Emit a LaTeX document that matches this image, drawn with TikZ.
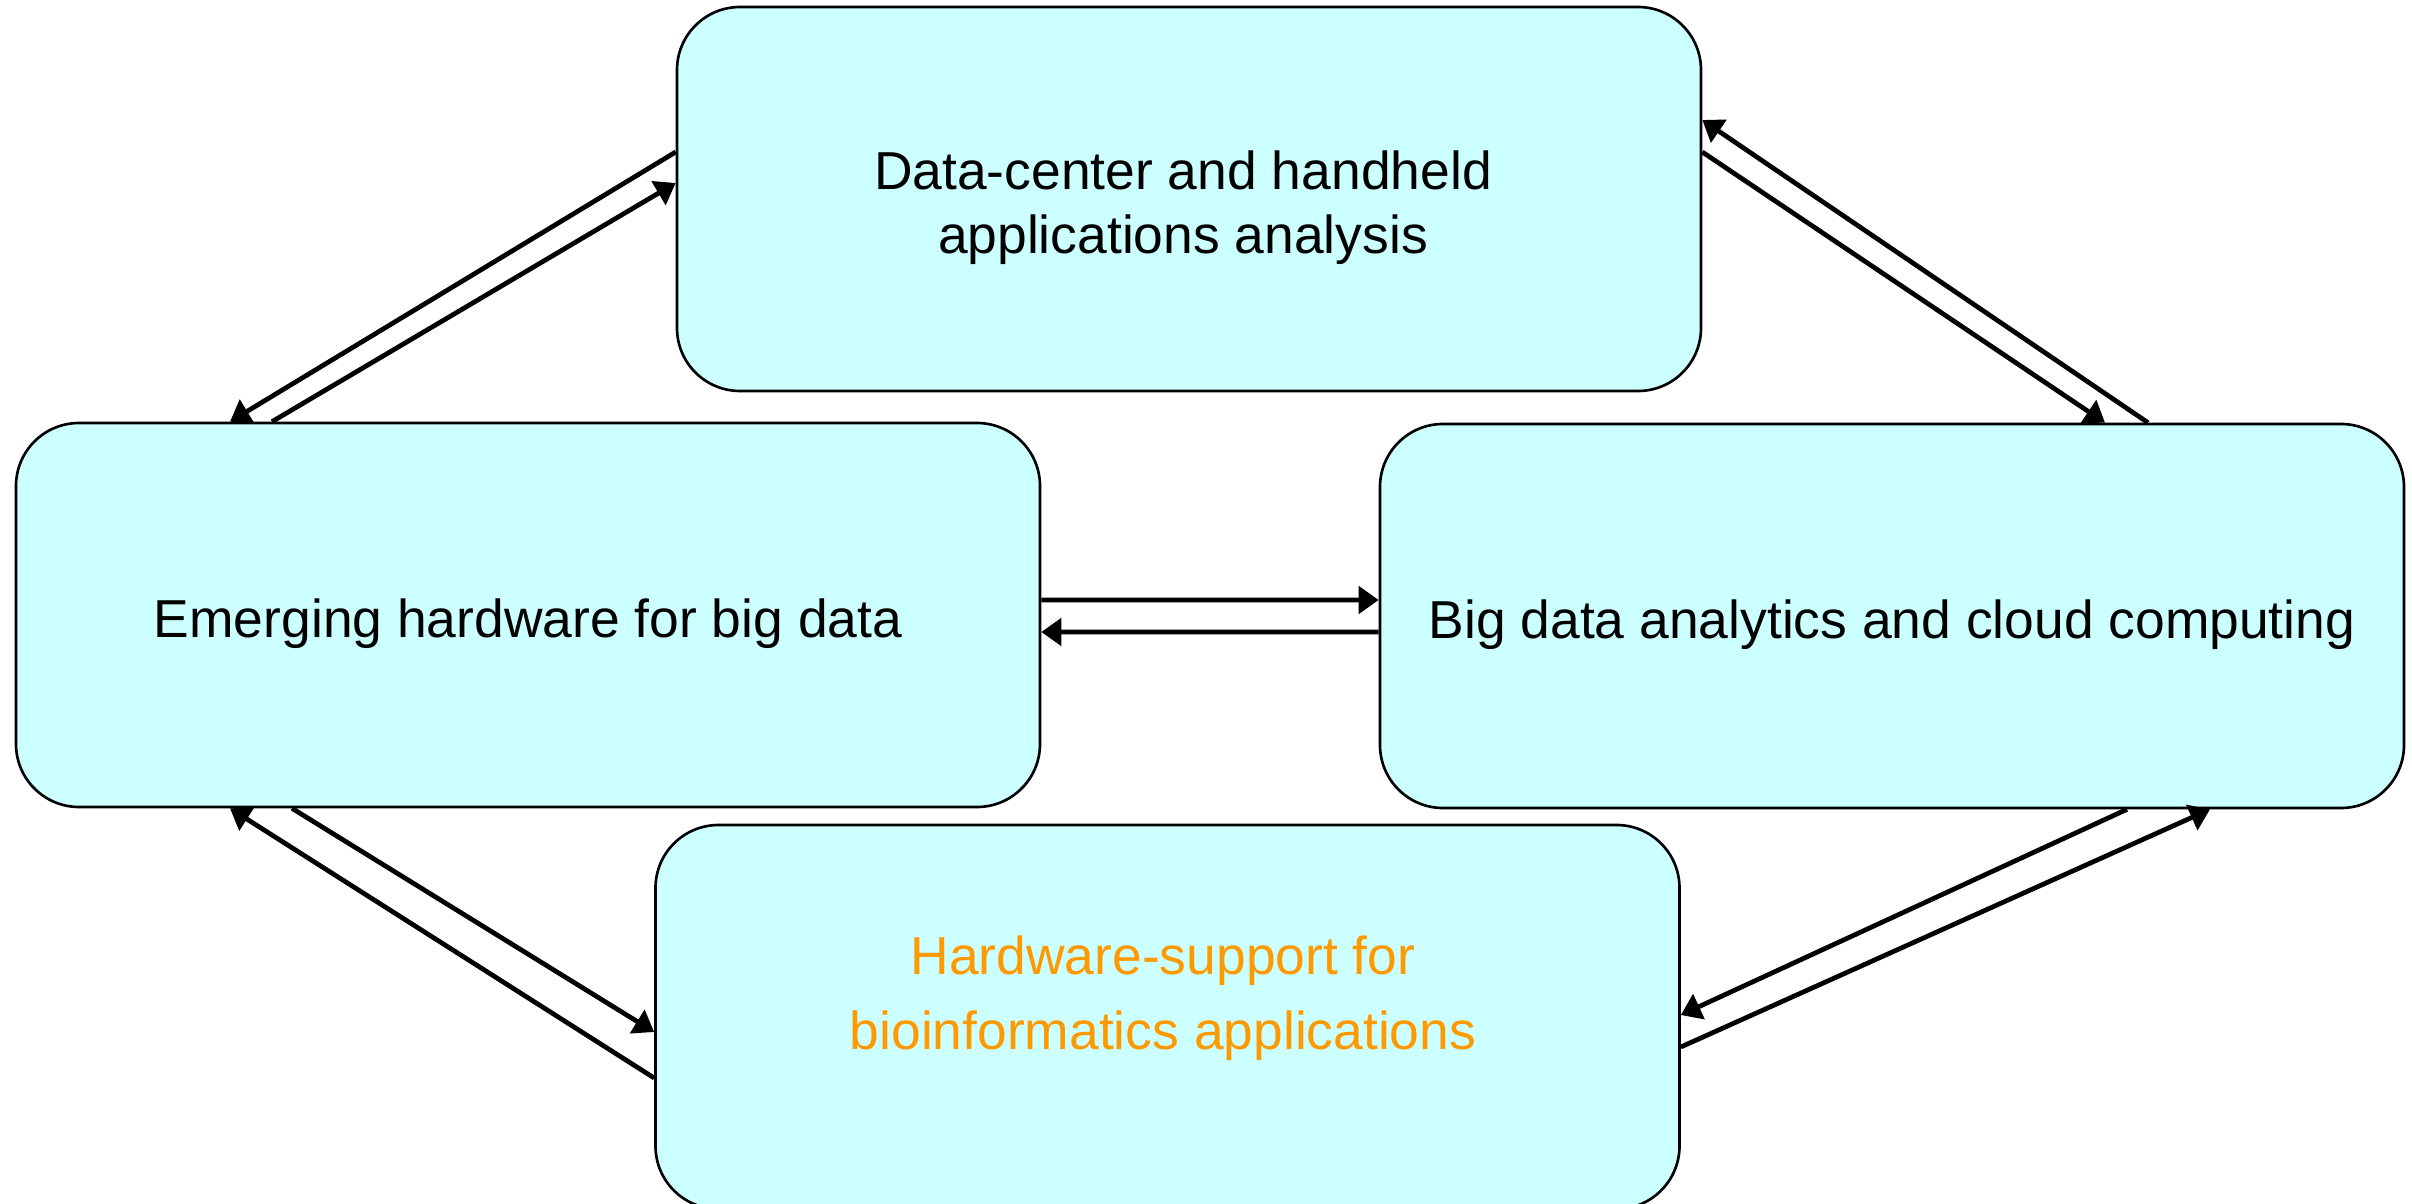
\documentclass[tikz,border=0pt]{standalone}
\usepackage{xcolor}
\usepackage{fontspec}
\setmainfont{Liberation Sans}
\usetikzlibrary{positioning,arrows.meta,calc}
\definecolor{boxcyan}{RGB}{204,255,255}
\definecolor{bioorange}{RGB}{255,153,0}

\begin{document}
\begin{tikzpicture}[box/.style={draw, line width=0.75pt, fill=boxcyan, rounded corners=6.3mm,
                    minimum width=102.4mm, minimum height=38.4mm},
                    label/.style={align=center, font=\fontsize{15.2}{18.3}\selectfont},
                    flow/.style={line width=1.35pt, -{Triangle[length=2mm, width=2.7mm]}}]
\useasboundingbox (0,0) rectangle (24.12,-12.04);
\node[box] (apps) at (11.89,-1.99) {};
\node[box] (hw) at (5.28,-6.15) {};
\node[box] (cloud) at (18.92,-6.16) {};
\node[box] (bio) at (11.675,-10.17) {};
\node[label] (appstext) at ([xshift=-0.6mm, yshift=-0.85mm]apps.center) {Data-center and handheld\\ applications analysis};
\node[label] (hwtext) at ([yshift=-0.9mm]hw.center) {Emerging hardware for big data};
\node[label] (cloudtext) at ([yshift=-0.9mm]cloud.center) {Big data analytics and cloud computing};
\node[label, font=\fontsize{15.2}{21.5}\selectfont, text=bioorange] (biotext)
  at ([xshift=-0.45mm, yshift=1.9mm]bio.center) {Hardware-support for\\ bioinformatics applications};
% top <-> left
\draw[flow] ([yshift=4.7mm]apps.west) -- ([xshift=-29.8mm]hw.north);
\draw[flow] ([xshift=-25.6mm]hw.north) -- ([yshift=1.6mm]apps.west);
% top <-> right
\draw[flow] ([xshift=25.6mm]cloud.north) -- ([yshift=7.9mm]apps.east);
\draw[flow] ([yshift=4.7mm]apps.east) -- ([xshift=21.3mm]cloud.north);
% left <-> right
\draw[flow] ([yshift=1.5mm]hw.east) -- ([yshift=1.6mm]cloud.west);
\draw[flow] ([yshift=-1.6mm]cloud.west) -- ([yshift=-1.7mm]hw.east);
% left <-> bottom
\draw[flow] ([yshift=-6.1mm]bio.west) -- ([xshift=-29.8mm]hw.south);
\draw[flow] ([xshift=-23.6mm]hw.south) -- ([yshift=-1.5mm]bio.west);
% right <-> bottom
\draw[flow] ([xshift=23.5mm]cloud.south) -- ([yshift=0.2mm]bio.east);
\draw[flow] ([yshift=-3.0mm]bio.east) -- ([xshift=31.8mm]cloud.south);
\end{tikzpicture}
\end{document}
